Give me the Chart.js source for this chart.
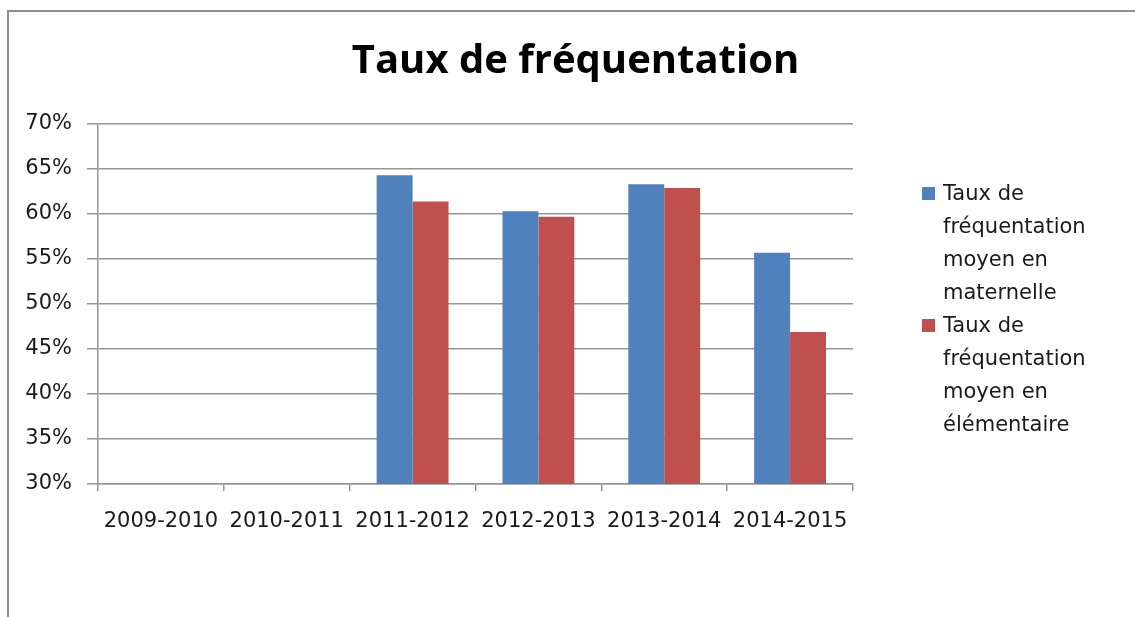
<!DOCTYPE html>
<html>
<head>
<meta charset="utf-8">
<script src="https://cdn.jsdelivr.net/npm/chart.js@4"></script>
<style>
  html, body { margin: 0; padding: 0; background: #fff; }
  #wrap { position: relative; width: 1135px; height: 617px; overflow: hidden; }
  #frame { position: absolute; left: 7px; top: 10px; width: 1200px; height: 700px;
           border-left: 2px solid #8f8f8f; border-top: 2px solid #8f8f8f; }
  #chart { position: absolute; left: 0; top: 0; }
  #legend { position: absolute; left: 922px; top: 177px; width: 175px;
            font-family: "DejaVu Sans", sans-serif; font-size: 21px; color: #1a1a1a; }
  .item { display: flex; align-items: flex-start; }
  .box { width: 13px; height: 13px; flex: none; margin-top: 10px; margin-right: 8px; }
  .txt { line-height: 33px; }
</style>
</head>
<body>
<div id="wrap">
  <div id="frame"></div>
  <canvas id="chart" width="1135" height="617"></canvas>
  <div id="legend"></div>
</div>
<script>
// --- Data ---
const years = ['2009-2010', '2010-2011', '2011-2012', '2012-2013', '2013-2014', '2014-2015'];
const maternelle = [null, null, 64.3, 60.3, 63.3, 55.7];
const elementaire = [null, null, 61.4, 59.7, 62.9, 46.9];
const seriesNames = ['Taux de fréquentation moyen en maternelle', 'Taux de fréquentation moyen en élémentaire'];
const seriesColors = ['#4F81BD', '#C0504D'];
const yMin = 30, yMax = 70, yStep = 5;

const tickFont = { family: 'DejaVu Sans', size: 21 };
const axisColor = '#959595';

const chart = new Chart(document.getElementById('chart'), {
    type: 'bar',
    data: {
        labels: years,
        datasets: [
            { label: seriesNames[0], data: maternelle, backgroundColor: seriesColors[0] },
            { label: seriesNames[1], data: elementaire, backgroundColor: seriesColors[1] }
        ]
    },
    options: {
        responsive: false,
        animation: false,
        categoryPercentage: 0.571,
        barPercentage: 1.0,
        layout: { padding: { left: 16, right: 0, top: 0, bottom: 0 } },
        plugins: {
            legend: { display: false },
            tooltip: { enabled: false },
            title: {
                display: true,
                text: 'Taux de fréquentation',
                color: '#000',
                font: { family: 'Open Sans', size: 40, weight: 'bold' },
                padding: { top: 38, bottom: 38 }
            }
        },
        scales: {
            y: {
                min: yMin,
                max: yMax,
                ticks: {
                    stepSize: yStep,
                    color: '#1a1a1a',
                    font: tickFont,
                    padding: 15,
                    callback: v => v + '%'
                },
                grid: { color: axisColor, lineWidth: 1.5, tickLength: 11 },
                border: { color: axisColor, width: 1.5 },
                afterFit: scale => { scale.width = 82; }
            },
            // empty box on the right, room for the legend
            legendSpace: {
                position: 'right',
                display: true,
                ticks: { display: false },
                grid: { display: false },
                border: { display: false },
                afterFit: scale => { scale.width = 282; }
            },
            x: {
                ticks: { color: '#1a1a1a', font: tickFont, padding: 18, maxRotation: 0 },
                grid: { offset: true, drawOnChartArea: false, color: axisColor, lineWidth: 1.5, tickLength: 7 },
                border: { color: axisColor, width: 1.5 },
                afterFit: scale => { scale.height = 133; }
            }
        }
    }
});

// HTML legend with wrapped labels
const legend = document.getElementById('legend');
chart.data.datasets.forEach(ds => {
    const item = document.createElement('div');
    item.className = 'item';
    item.innerHTML = '<span class="box" style="background:' + ds.backgroundColor + '"></span>' +
        '<span class="txt">' + ds.label + '</span>';
    legend.appendChild(item);
});
</script>
</body>
</html>
